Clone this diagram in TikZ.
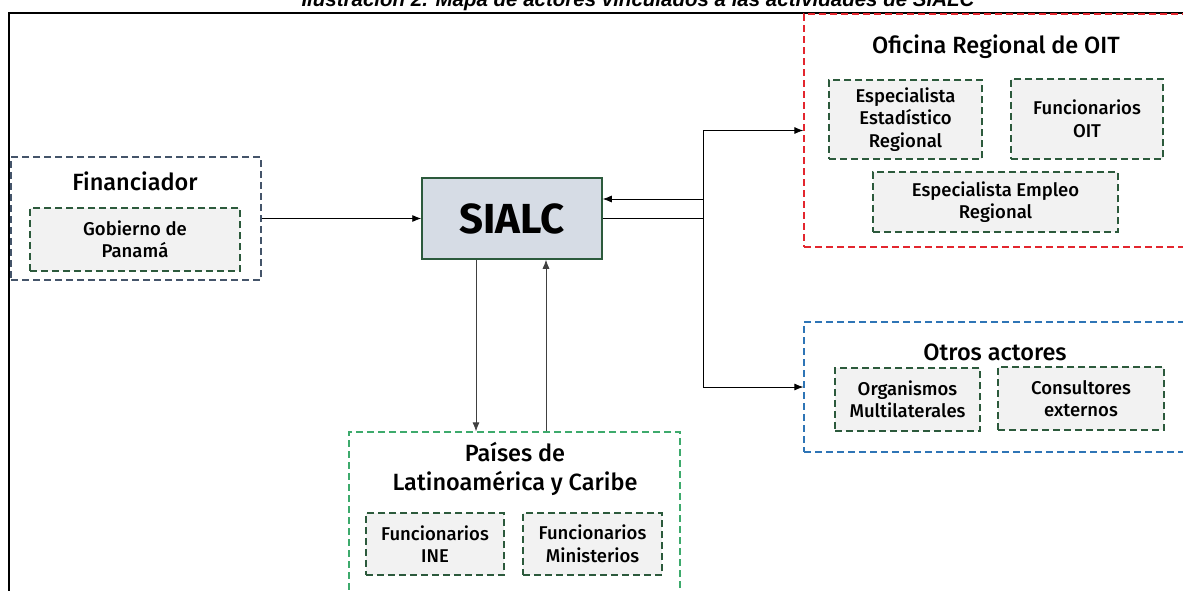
\documentclass[tikz,border=0pt]{standalone}
\usepackage{fontspec}
\setmainfont{Fira Sans}[BoldFont={Fira Sans Medium}]
\newfontfamily\capfont{Liberation Sans}
\newfontfamily\sialcfont{Fira Sans Bold}
\usepackage{xcolor}
\usepackage{tikz}
\usetikzlibrary{arrows.meta}

\definecolor{finblue}{HTML}{44546A}
\definecolor{boxgreen}{HTML}{2C5A3C}
\definecolor{boxfill}{HTML}{F2F2F2}
\definecolor{sialcfill}{HTML}{D6DCE5}
\definecolor{oitred}{HTML}{E3262E}
\definecolor{otrosblue}{HTML}{2E75B6}
\definecolor{lacgreen}{HTML}{3DAA6C}

\tikzset{
  group/.style={draw=#1, dash pattern=on 7pt off 4pt, line width=1.3pt, inner sep=0pt},
  actor/.style={draw=boxgreen, fill=boxfill, dash pattern=on 7pt off 4pt, line width=1.3pt,
    inner sep=0pt, align=center, font=\fontsize{18.5}{22.5}\selectfont\bfseries},
  grouptitle/.style={align=center, font=\fontsize{23.5}{29}\selectfont\bfseries},
  link/.style={-{Latex[length=9pt,width=7pt]}, line width=0.8pt},
}

\begin{document}
\begin{tikzpicture}[x=1pt,y=-1pt]
            \clip (0,0) rectangle (1183,590);

            % frame and caption
            \draw[line width=2pt] (9,620) -- (9,13) -- (1200,13);
            \node[anchor=base, font=\capfont\fontsize{20.5}{22}\selectfont\bfseries\itshape] at (638,6.5) (cap)
                {Ilustración 2. Mapa de actores vinculados a las actividades de SIALC};

            % Financiador
            \node[group=finblue, minimum width=250pt, minimum height=123pt] at (136,218.5) (fin) {};
            \node[grouptitle] at (135,181) (fin-t) {Financiador};
            \node[actor, minimum width=210pt, minimum height=63pt] at (135,239.5) (gob) {Gobierno de\\Panamá};

            % SIALC
            \node[draw=boxgreen, fill=sialcfill, line width=1.5pt, minimum width=180pt, minimum height=81pt,
                font=\sialcfont\fontsize{42}{44}\selectfont] at (512,218.5) (sialc) {SIALC};

            % Oficina Regional de OIT
            \node[group=oitred, minimum width=406pt, minimum height=233pt] at (1007,130.5) (ofi) {};
            \node[grouptitle] at (996,47) (ofi-t) {Oficina Regional de OIT};
            \node[actor, minimum width=153pt, minimum height=79pt] at (905.5,119.5) (estad) {Especialista\\Estadístico\\Regional};
            \node[actor, minimum width=152pt, minimum height=80pt] at (1087,119) (funoit) {Funcionarios\\OIT};
            \node[actor, minimum width=245pt, minimum height=60pt] at (995.5,202) (empleo) {Especialista Empleo\\Regional};

            % Otros actores
            \node[group=otrosblue, minimum width=406pt, minimum height=130pt] at (1007,387) (otros) {};
            \node[grouptitle] at (995,352) (otros-t) {Otros actores};
            \node[actor, minimum width=145pt, minimum height=63pt] at (907.5,399.5) (multi) {Organismos\\Multilaterales};
            \node[actor, minimum width=166pt, minimum height=63pt] at (1081,398.5) (consul) {Consultores\\externos};

            % Paises
            \node[group=lacgreen, minimum width=331pt, minimum height=188pt] at (514.5,526) (lac) {};
            \node[grouptitle] at (515,468.5) (lac-t) {Países de\\Latinoamérica y Caribe};
            \node[actor, minimum width=138pt, minimum height=62pt] at (435,544) (ine) {Funcionarios\\INE};
            \node[actor, minimum width=139pt, minimum height=62pt] at (592.5,544) (minis) {Funcionarios\\Ministerios};

            % connectors
            \coordinate (jn) at (703,0);
            \coordinate (ret) at (0,199);
            \coordinate (dn) at (476,0);
            \coordinate (up) at (546,0);

            \draw[link] (fin.east) -- (sialc.west);
            \draw[line width=0.8pt] (sialc.east) -- (sialc.east -| jn);
            \draw[line width=0.8pt] (jn |- ofi.west) -- (jn |- otros.west);
            \draw[link] (jn |- ofi.west) -- (ofi.west);
            \draw[link] (jn |- otros.west) -- (otros.west);
            \draw[link] (jn |- ret) -- (sialc.east |- ret);
            \draw[link, black!75] (sialc.south -| dn) -- (lac.north -| dn);
            \draw[link, black!75] (lac.north -| up) -- (sialc.south -| up);
        \end{tikzpicture}
\end{document}
